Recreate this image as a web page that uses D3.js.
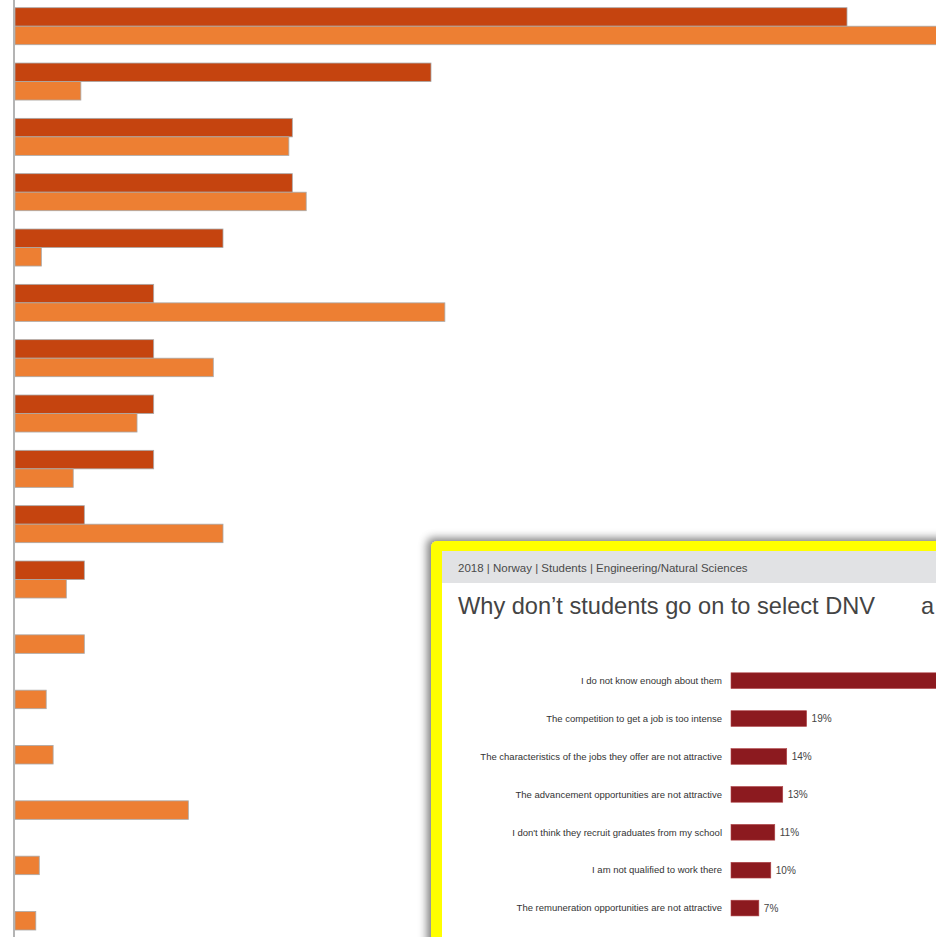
<!DOCTYPE html>
<html>
<head>
<meta charset="utf-8">
<script src="https://cdn.jsdelivr.net/npm/d3@7"></script>
<style>
  body { margin: 0; background: #fff; }
  svg { display: block; }
</style>
</head>
<body>
<div id="chart"></div>
<script>
// Main chart: two series per row, rows seen top to bottom (labels cropped away)
const rows = d3.range(1, 18).map((i) => "r" + i);
const darkValues = [12, 6, 4, 4, 3, 2, 2, 2, 2, 1, 1, null, null, null, null, null, null];
const lightValues = [14, 0.95, 3.95, 4.2, 0.38, 6.2, 2.86, 1.76, 0.84, 3.0, 0.74, 1.0, 0.45, 0.55, 2.5, 0.35, 0.3];

// Inset screenshot chart
const insetMeta = "2018 | Norway | Students | Engineering/Natural Sciences";
const insetTitle = "Why don\u2019t students go on to select DNV";
const insetTitleTail = "a";
const insetLabels = [
    "I do not know enough about them",
    "The competition to get a job is too intense",
    "The characteristics of the jobs they offer are not attractive",
    "The advancement opportunities are not attractive",
    "I don't think they recruit graduates from my school",
    "I am not qualified to work there",
    "The remuneration opportunities are not attractive",
];
const insetValues = [55, 19, 14, 13, 11, 10, 7];

const W = 936, H = 937;

const svg = d3
    .select("#chart")
    .append("svg")
    .attr("width", W)
    .attr("height", H);

svg.append("rect").attr("width", W).attr("height", H).attr("fill", "#fff");

// ---- main bars ----
const x = d3.scaleLinear().domain([0, 12]).range([15, 847]);
const y = d3.scaleBand().domain(rows).range([7.7, 930]).paddingInner(0.331).paddingOuter(0);
const ySub = d3.scaleBand().domain(["dark", "light"]).range([0, y.bandwidth()]);

const seriesList = [
    { key: "dark", values: darkValues, color: "#C5440F" },
    { key: "light", values: lightValues, color: "#ED7F33" },
];

const main = svg.append("g");

seriesList.forEach((s) => {
    main.selectAll(".bar-" + s.key)
        .data(rows.map((r, i) => ({ row: r, v: s.values[i] })).filter((d) => d.v != null))
        .enter()
        .append("rect")
        .attr("class", "bar-" + s.key)
        .attr("x", x(0))
        .attr("y", (d) => y(d.row) + ySub(s.key))
        .attr("width", (d) => x(d.v) - x(0))
        .attr("height", ySub.bandwidth())
        .attr("fill", s.color)
        .attr("stroke", "#a9a9a9")
        .attr("stroke-width", 0.8);
});

// value axis line
main.append("line")
    .attr("x1", 14).attr("x2", 14)
    .attr("y1", 0).attr("y2", H)
    .attr("stroke", "#b4b4b4")
    .attr("stroke-width", 2);

// ---- inset screenshot ----
const defs = svg.append("defs");
const shadow = defs.append("filter").attr("id", "shadow")
    .attr("x", "-10%").attr("y", "-10%").attr("width", "130%").attr("height", "130%");
shadow.append("feGaussianBlur").attr("in", "SourceAlpha").attr("stdDeviation", 4);
shadow.append("feOffset").attr("dx", -4).attr("dy", -3).attr("result", "blur");
shadow.append("feFlood").attr("flood-color", "#000").attr("flood-opacity", 0.5);
shadow.append("feComposite").attr("in2", "blur").attr("operator", "in");
const merge = shadow.append("feMerge");
merge.append("feMergeNode");
merge.append("feMergeNode").attr("in", "SourceGraphic");

const inset = svg.append("g");

inset.append("rect")
    .attr("x", 431).attr("y", 541)
    .attr("width", 540).attr("height", 420)
    .attr("rx", 6)
    .attr("fill", "#ffff00")
    .attr("filter", "url(#shadow)");

inset.append("rect")
    .attr("x", 442).attr("y", 551)
    .attr("width", 520).attr("height", 400)
    .attr("fill", "#fff");

inset.append("rect")
    .attr("x", 442).attr("y", 551)
    .attr("width", 520).attr("height", 32)
    .attr("fill", "#e1e2e4");

inset.append("text")
    .attr("x", 458).attr("y", 572)
    .attr("font-family", "Liberation Sans, Arial, sans-serif")
    .attr("font-size", "11.5px")
    .attr("fill", "#4a4a4a")
    .text(insetMeta);

inset.append("text")
    .attr("x", 458).attr("y", 614)
    .attr("font-family", "Liberation Sans, Arial, sans-serif")
    .attr("font-size", "23.6px")
    .attr("fill", "#444")
    .text(insetTitle);

inset.append("text")
    .attr("x", 921).attr("y", 614)
    .attr("font-family", "Liberation Sans, Arial, sans-serif")
    .attr("font-size", "23.6px")
    .attr("fill", "#444")
    .text(insetTitleTail);

const xi = d3.scaleLinear().domain([0, 25]).range([731, 830.5]);
// band step 37.9, bar height ~15.7
const yi = d3.scaleBand()
    .domain(insetLabels)
    .range([672.8, 672.8 + 37.9 * insetLabels.length - 37.9 * 0.585])
    .paddingInner(0.585)
    .paddingOuter(0);

const rowsG = inset.selectAll(".irow")
    .data(insetLabels.map((l, i) => ({ label: l, v: insetValues[i], i })))
    .enter()
    .append("g")
    .attr("class", "irow");

rowsG.append("rect")
    .attr("x", xi(0))
    .attr("y", (d) => yi(d.label))
    .attr("width", (d) => xi(d.v) - xi(0))
    .attr("height", yi.bandwidth())
    .attr("fill", "#8C1A1F")
    .attr("stroke", "#b0464a")
    .attr("stroke-width", 0.6);

rowsG.append("text")
    .attr("x", 722)
    .attr("y", (d) => yi(d.label) + yi.bandwidth() / 2 + 3.3)
    .attr("text-anchor", "end")
    .attr("font-family", "Liberation Sans, Arial, sans-serif")
    .attr("font-size", "9.5px")
    .attr("fill", "#333")
    .text((d) => d.label);

rowsG.filter((d) => d.i > 0)
    .append("text")
    .attr("x", (d) => xi(d.v) + 5)
    .attr("y", (d) => yi(d.label) + yi.bandwidth() / 2 + 3.8)
    .attr("font-family", "Liberation Sans, Arial, sans-serif")
    .attr("font-size", "10px")
    .attr("fill", "#444")
    .text((d) => d.v + "%");
</script>
</body>
</html>
